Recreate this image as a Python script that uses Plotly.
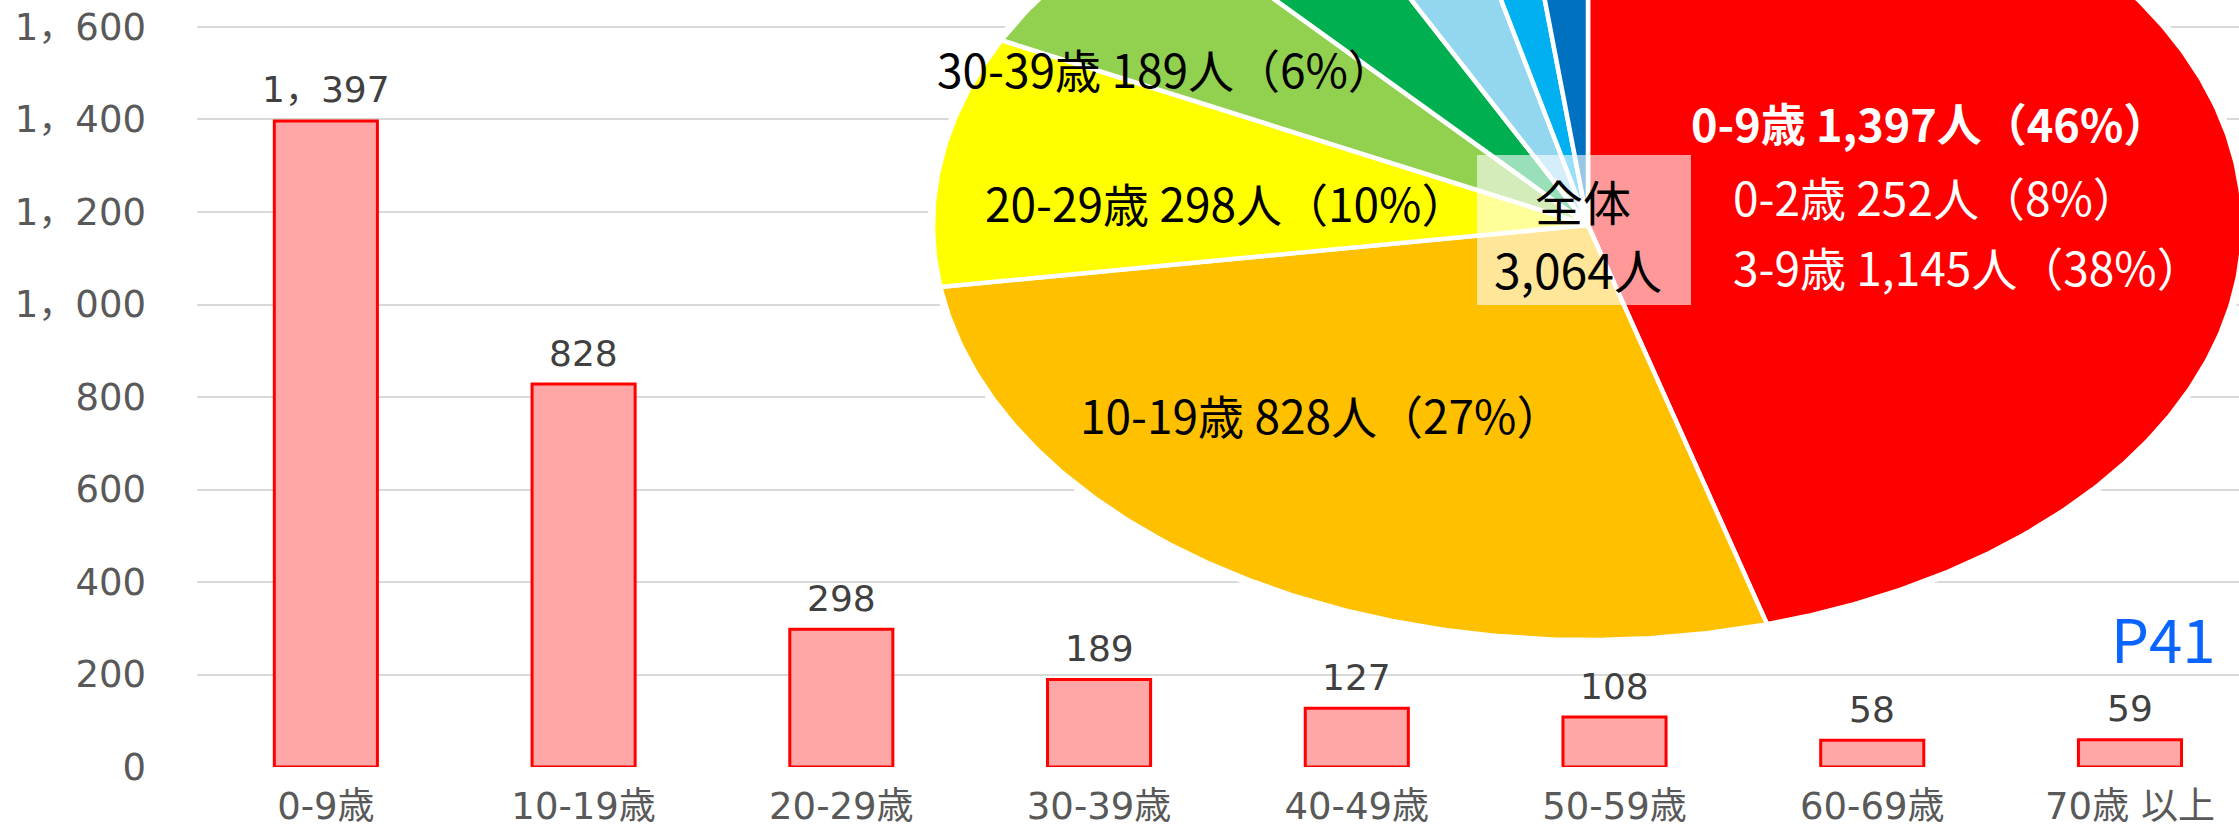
import math
import plotly.graph_objects as go

W, H = 2239, 833

# Patients by age group
age_groups = ["0-9歳", "10-19歳", "20-29歳", "30-39歳", "40-49歳", "50-59歳", "60-69歳", "70歳 以上"]
patients = [1397, 828, 298, 189, 127, 108, 58, 59]
y_ticks = [0, 200, 400, 600, 800, 1000, 1200, 1400, 1600]

# Pie slice colours, same order as age_groups
slice_colors = ["#FF0000", "#FFC000", "#FFFF00", "#92D050",
                "#00B050", "#93D6EF", "#00B0F0", "#0070C0"]

# Breakdown of the youngest group
infant_groups = ["0-2歳", "3-9歳"]
infant_counts = [252, 1145]
infant_pcts = [8, 38]

total = sum(patients)

AXIS_FONT = "DejaVu Sans, Noto Sans CJK JP"
PIE_FONT = "Noto Sans CJK JP"


def fw_comma(n):
    return f"{n:,}".replace(",", "，")


def px(x):
    return x / W


def py(y):
    return 1 - y / H


fig = go.Figure()

# ---- bar chart -------------------------------------------------------
fig.add_trace(go.Bar(
    x=age_groups, y=patients, width=0.4,
    marker=dict(color="#FFA7A7", line=dict(color="#FF0000", width=3)),
    hoverinfo="skip", showlegend=False,
))

# ---- elliptical pie on its own full-figure axes ----------------------
cx, cy, rx, ry = 1588, 225, 655, 415   # centre and radii in pixels

# white halo behind the pie
n = 720
hx = [math.cos(2 * math.pi * k / n) for k in range(n + 1)]
hy = [math.sin(2 * math.pi * k / n) for k in range(n + 1)]
fig.add_trace(go.Scatter(
    x=hx, y=hy, xaxis="x2", yaxis="y2", mode="lines", fill="toself",
    fillcolor="white", line=dict(color="white", width=12),
    hoverinfo="skip", showlegend=False,
))

cum = 0
for val, col in zip(patients, slice_colors):
    f0, f1 = cum / total, (cum + val) / total
    cum += val
    steps = max(2, int(720 * (f1 - f0)) + 2)
    xs, ys = [0.0], [0.0]
    for k in range(steps + 1):
        f = f0 + (f1 - f0) * k / steps
        t = math.pi / 2 - 2 * math.pi * f
        xs.append(math.cos(t))
        ys.append(math.sin(t))
    xs.append(0.0)
    ys.append(0.0)
    fig.add_trace(go.Scatter(
        x=xs, y=ys, xaxis="x2", yaxis="y2", mode="lines", fill="toself",
        fillcolor=col, line=dict(color="white", width=4.5),
        hoverinfo="skip", showlegend=False,
    ))

annotations = []

# value labels above bars
for cat, v in zip(age_groups, patients):
    annotations.append(dict(
        x=cat, y=v, xref="x", yref="y", text=fw_comma(v), showarrow=False,
        xanchor="center", yanchor="middle", yshift=31,
        font=dict(family=AXIS_FONT, size=36, color="#404040"),
    ))

# pie labels
pcts = [round(v / total * 100) for v in patients]
dark_labels = [(3, 1165, 68), (2, 1226, 202), (1, 1321, 414)]
for i, lx, ly in dark_labels:
    annotations.append(dict(
        x=px(lx), y=py(ly), xref="paper", yref="paper", showarrow=False,
        xanchor="center", yanchor="middle",
        text=f"{age_groups[i]} {patients[i]:,}人（{pcts[i]}%）",
        font=dict(family=PIE_FONT, size=46, color="black"),
    ))

annotations.append(dict(
    x=px(1689), y=py(122), xref="paper", yref="paper", showarrow=False,
    xanchor="left", yanchor="middle",
    text=f"<b>{age_groups[0]} {patients[0]:,}人（{pcts[0]}%）</b>",
    font=dict(family=PIE_FONT, size=45, color="white"),
))
for (g, c, p), ly in zip(zip(infant_groups, infant_counts, infant_pcts), [196, 266]):
    annotations.append(dict(
        x=px(1731), y=py(ly), xref="paper", yref="paper", showarrow=False,
        xanchor="left", yanchor="middle",
        text=f"{g} {c:,}人（{p}%）",
        font=dict(family=PIE_FONT, size=46, color="white"),
    ))

# total in the centre of the pie
annotations.append(dict(
    x=px(1583), y=py(200), xref="paper", yref="paper", showarrow=False,
    xanchor="center", yanchor="middle",
    text="全体", font=dict(family=PIE_FONT, size=48, color="black"),
))
annotations.append(dict(
    x=px(1578), y=py(268), xref="paper", yref="paper", showarrow=False,
    xanchor="center", yanchor="middle",
    text=f"{total:,}人", font=dict(family=PIE_FONT, size=48, color="black"),
))

# page reference
annotations.append(dict(
    x=px(2218), y=py(636), xref="paper", yref="paper", showarrow=False,
    xanchor="right", yanchor="middle",
    text="P41", font=dict(family=PIE_FONT, size=60, color="#0A64FF"),
))

shapes = [dict(
    type="rect", xref="paper", yref="paper",
    x0=px(1477), x1=px(1691), y0=py(305), y1=py(155),
    fillcolor="rgba(255,255,255,0.6)", line=dict(width=0), layer="above",
)]

# value axis: 0 sits at pixel row 767, 1600 at row 27
y_top = 1606
scale = (767 - 27) / 1600
top_px = 767 - y_top * scale

fig.update_layout(
    width=W, height=H,
    margin=dict(l=0, r=0, t=0, b=0, pad=0, autoexpand=False),
    paper_bgcolor="white", plot_bgcolor="rgba(0,0,0,0)",
    annotations=annotations, shapes=shapes,
    xaxis=dict(
        domain=[197 / W, 1], range=[-0.5, 7.423], automargin=False,
        showgrid=False, showline=False, zeroline=False,
        ticks="", ticklabelstandoff=14,
        tickfont=dict(family=AXIS_FONT, size=37, color="#595959"),
    ),
    yaxis=dict(
        domain=[(H - 767) / H, (H - top_px) / H], range=[0, y_top], automargin=False,
        tickvals=y_ticks, ticktext=[fw_comma(v) for v in y_ticks],
        showgrid=True, gridcolor="#D9D9D9", gridwidth=2,
        zeroline=False, showline=False, ticks="", ticklabelstandoff=50,
        tickfont=dict(family=AXIS_FONT, size=37, color="#595959"),
    ),
    xaxis2=dict(
        domain=[0, 1], range=[(0 - cx) / rx, (W - cx) / rx],
        visible=False, anchor="y2", automargin=False,
    ),
    yaxis2=dict(
        domain=[0, 1], range=[(cy - H) / ry, cy / ry],
        visible=False, anchor="x2", automargin=False,
    ),
)

fig.write_html("out.html")
